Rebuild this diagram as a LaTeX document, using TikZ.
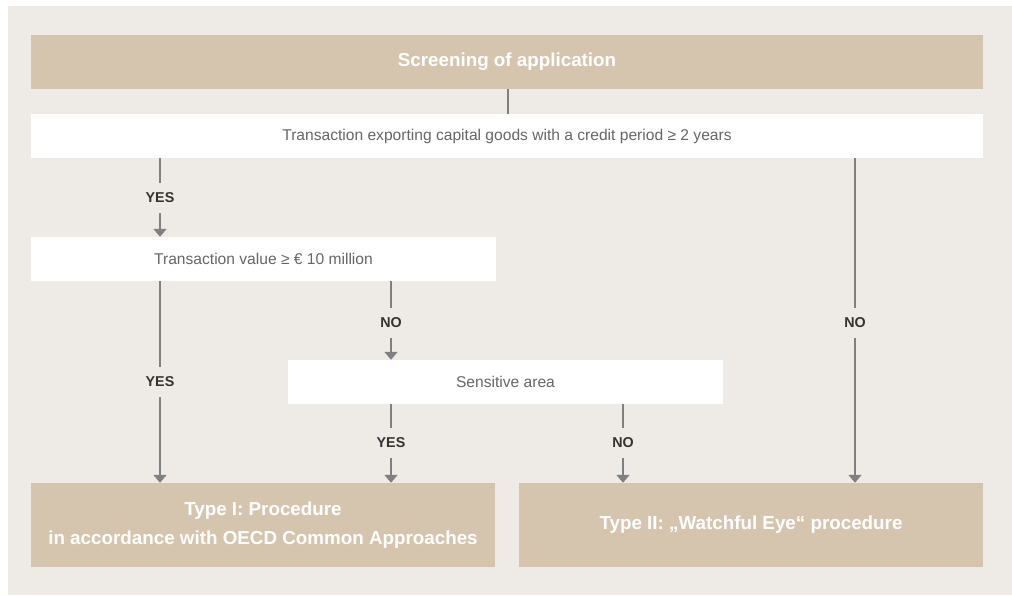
\documentclass[tikz,border=0pt]{standalone}
\usepackage{fontspec}
\setmainfont{Liberation Sans}
\usetikzlibrary{arrows.meta}
\definecolor{panel}{HTML}{EEEBE6}
\definecolor{sand}{HTML}{D5C5AF}
\definecolor{wire}{HTML}{808080}
\definecolor{ink}{HTML}{666666}
\definecolor{label}{HTML}{333333}
\begin{document}
\begin{tikzpicture}[x=1pt,y=-1pt,
            sand box/.style={fill=sand,text=white,font=\fontsize{18.8}{29}\selectfont\bfseries,
              align=center,inner sep=0pt,minimum width=#1,minimum height=54pt},
            query box/.style={fill=white,text=ink,font=\fontsize{15.6}{18}\selectfont,
              inner sep=0pt,minimum width=#1,minimum height=44pt},
            answer/.style={text=label,font=\fontsize{14.3}{16}\selectfont\bfseries,
              inner sep=0pt,minimum height=30pt},
            link/.style={draw=wire,line width=1.8pt},
            arrow/.style={link,-{Triangle[length=8pt,width=13pt]}}]

        % Background
        \useasboundingbox (0,0) rectangle (1012,595);
        \fill[white] (0,0) rectangle (1012,595);
        \fill[panel] (8,6) rectangle (1012,595);

        % Define boxes
        \node[sand box=952pt] (screen) at (507,62) {Screening of application};
        \node[query box=952pt] (capital) at (507,136) {Transaction exporting capital goods with a credit period ≥ 2 years};
        \node[query box=465pt] (value) at (263.5,259) {Transaction value ≥ € 10 million};
        \node[query box=435pt] (sensitive) at (505.5,382) {Sensitive area};
        \node[sand box=464pt,minimum height=84pt] (typeone) at (263,525)
            {Type I: Procedure\\in accordance with OECD Common Approaches};
        \node[sand box=464pt,minimum height=84pt] (typetwo) at (751,525)
            {Type II: „Watchful Eye“ procedure};

        % Define answers
        \node[answer] (yes1) at (160,198) {YES};
        \node[answer] (no1) at (391,323) {NO};
        \node[answer] (yes2) at (160,382) {YES};
        \node[answer] (no2) at (855,323) {NO};
        \node[answer] (yes3) at (391,443) {YES};
        \node[answer] (no3) at (623,443) {NO};

        % Draw edges
        \draw[link] (screen.south -| 508,0) -- (capital.north -| 508,0);
        \draw[link] (capital.south -| yes1) -- (yes1);
        \draw[arrow] (yes1) -- (value.north -| yes1);
        \draw[link] (value.south -| yes2) -- (yes2);
        \draw[arrow] (yes2) -- (typeone.north -| yes2);
        \draw[link] (value.south -| no1) -- (no1);
        \draw[arrow] (no1) -- (sensitive.north -| no1);
        \draw[link] (sensitive.south -| yes3) -- (yes3);
        \draw[arrow] (yes3) -- (typeone.north -| yes3);
        \draw[link] (sensitive.south -| no3) -- (no3);
        \draw[arrow] (no3) -- (typetwo.north -| no3);
        \draw[link] (capital.south -| no2) -- (no2);
        \draw[arrow] (no2) -- (typetwo.north -| no2);

\end{tikzpicture}
\end{document}
